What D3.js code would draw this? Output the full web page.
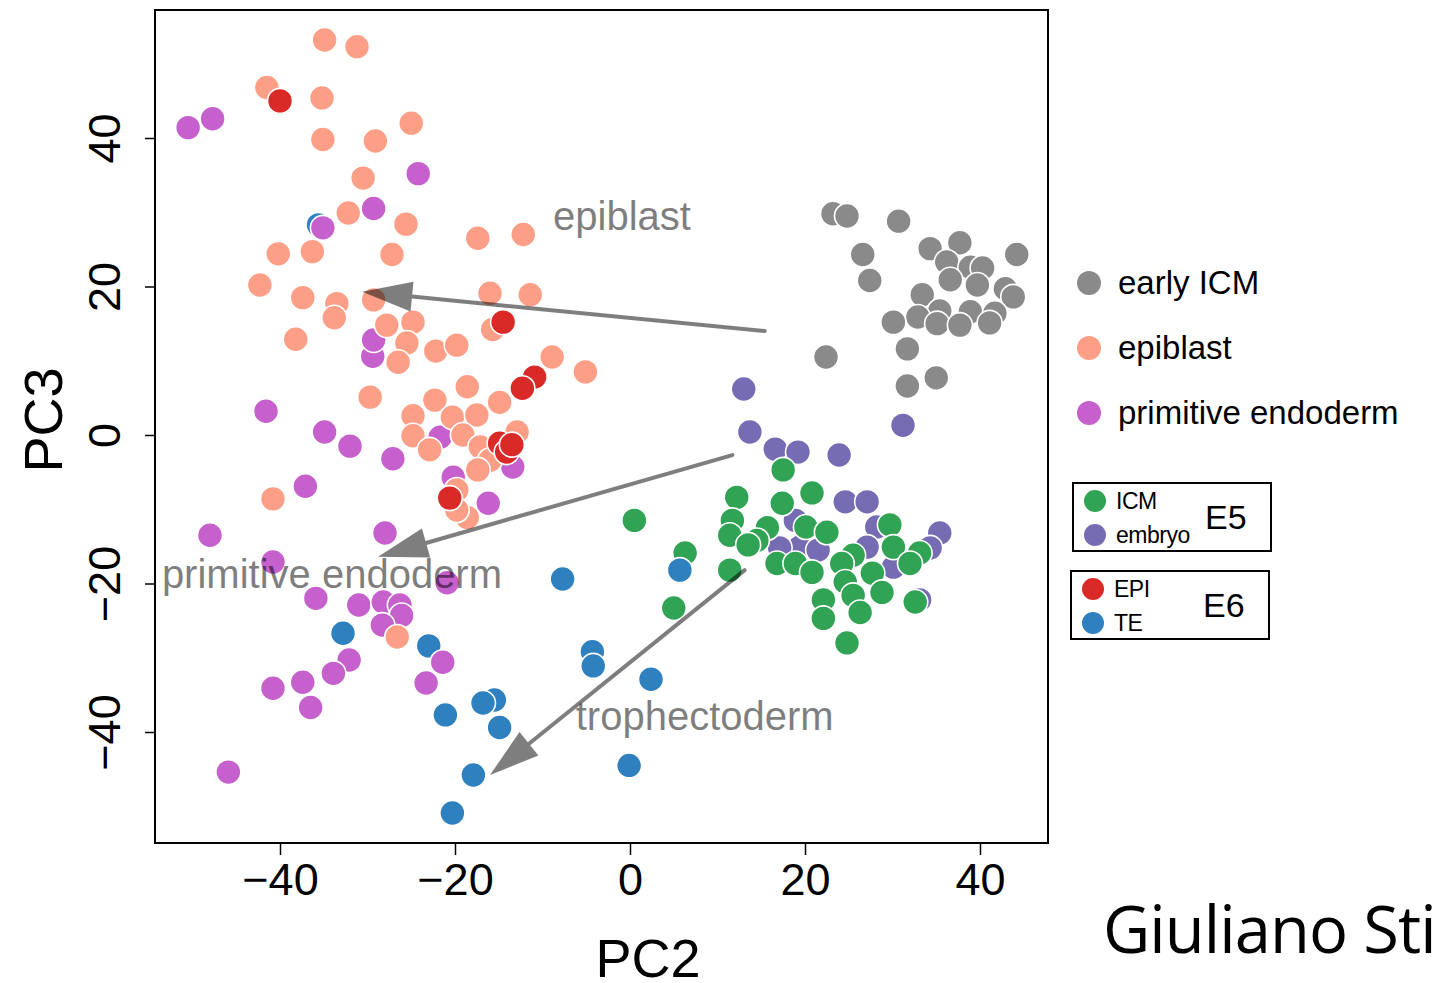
<!DOCTYPE html>
<html>
<head>
<meta charset="utf-8">
<script src="https://cdn.jsdelivr.net/npm/d3@7"></script>
<style>
  body { margin: 0; background: #fff; overflow: hidden; }
</style>
</head>
<body>
<div id="canvas"></div>
<script>
"use strict"

/* data: [PC2, PC3] */
let earlyICM = [[23.2,29.8],[24.8,29.5],[30.7,28.8],[26.6,24.3],[27.4,20.8],[34.3,25.1],[37.7,25.9],
  [44.2,24.3],[36.2,23.3],[38.9,22.6],[40.3,22.5],[36.6,20.9],[39.7,20.2],[42.9,19.7],[43.8,18.6],
  [33.4,18.9],[35.4,16.7],[38.9,16.6],[41.7,16.4],[32.9,15.9],[35.1,15.0],[37.7,14.8],[41.1,15.1],
  [30.1,15.2],[31.7,11.6],[22.4,10.5],[31.7,6.6],[35.0,7.7]];

let embryoE5 = [[13.0,6.2],[13.7,0.4],[16.6,-1.9],[19.2,-2.3],[23.9,-2.7],[31.2,1.3],[24.6,-9.0],
  [27.1,-9.0],[35.4,-13.2],[34.3,-15.2],[33.1,-22.2],[18.9,-11.5],[19.4,-15.1],[21.5,-15.5],
  [17.1,-15.2],[28.2,-12.4],[30.1,-17.8],[27.1,-15.1]];

let icmE5 = [[17.5,-4.7],[12.2,-8.4],[20.8,-7.8],[17.4,-9.2],[11.7,-11.5],[11.4,-13.5],[15.7,-12.5],
  [14.5,-14.2],[13.5,-14.8],[20.1,-12.4],[22.5,-13.1],[16.8,-17.3],[18.9,-17.3],[20.8,-18.5],
  [11.4,-18.2],[25.5,-16.2],[24.2,-17.3],[29.7,-12.1],[30.1,-15.1],[33.1,-15.9],[32.0,-17.3],
  [27.7,-18.6],[24.6,-19.8],[28.8,-21.2],[22.1,-22.2],[25.5,-21.6],[26.3,-23.9],[22.1,-24.7],
  [24.8,-28.0],[32.6,-22.5],[0.5,-11.5],[6.3,-15.9],[5.0,-23.3]];

let teE6 = [[-35.6,28.3],[-32.8,-26.7],[-23.0,-28.4],[-21.1,-37.7],[-15.5,-35.7],[-16.8,-36.1],
  [-14.9,-39.4],[-17.9,-45.8],[-20.3,-50.9],[-7.7,-19.4],[5.7,-18.2],[-4.3,-29.2],[-4.2,-31.1],
  [2.4,-32.9],[-0.1,-44.5]];

let primEndo = [[-50.5,41.4],[-47.7,42.6],[-24.2,35.2],[-29.3,30.5],[-35.1,27.9],[-29.4,10.6],
  [-29.3,12.8],[-41.6,3.2],[-34.9,0.4],[-32.0,-1.5],[-27.1,-3.2],[-37.1,-6.9],[-21.7,-0.3],
  [-20.2,-5.7],[-13.4,-4.3],[-16.2,-9.2],[-28.0,-13.2],[-48.0,-13.5],[-40.8,-17.1],[-20.9,-19.9],
  [-35.9,-22.0],[-31.0,-22.9],[-28.2,-22.5],[-26.3,-22.9],[-26.1,-24.3],[-28.3,-25.6],[-32.1,-30.3],
  [-33.9,-32.1],[-37.4,-33.3],[-40.8,-34.1],[-36.5,-36.7],[-23.3,-33.4],[-21.4,-30.6],[-45.9,-45.4]];

let epiblast = [[-34.9,53.2],[-31.2,52.3],[-41.5,46.8],[-35.2,45.4],[-35.1,39.8],[-29.1,39.6],
  [-25.0,42.0],[-30.5,34.6],[-32.2,29.9],[-25.6,28.4],[-40.2,24.4],[-36.3,24.7],[-27.2,24.3],
  [-42.3,20.2],[-37.4,18.5],[-33.5,17.7],[-33.8,15.8],[-38.2,12.9],[-29.3,18.2],[-24.8,15.2],
  [-25.5,12.4],[-26.5,9.8],[-22.2,11.3],[-19.8,12.1],[-29.7,5.1],[-22.3,4.7],[-18.6,6.5],
  [-14.9,4.4],[-24.8,2.6],[-20.3,2.4],[-17.5,2.7],[-12.9,0.4],[-24.8,-0.1],[-19.1,0.0],
  [-22.9,-2.0],[-17.1,-1.6],[-16.0,-3.4],[-17.4,-4.7],[-19.8,-7.4],[-18.6,-11.1],[-19.8,-10.1],
  [-40.8,-8.6],[-17.4,26.5],[-12.2,27.0],[-16.0,19.1],[-11.4,18.9],[-15.7,14.2],[-8.9,10.5],
  [-5.1,8.5],[-26.6,-27.2],[-27.8,14.8]];

let epiE6 = [[-40.0,45.0],[-14.5,15.2],[-10.9,7.8],[-12.3,6.3],[-14.9,-1.1],[-14.1,-2.3],
  [-13.5,-1.3],[-20.6,-8.5]];

let groupNames = ["early ICM", "embryo", "ICM", "TE", "primitive endoderm", "epiblast", "EPI"];
let groupColors = ["#8a8a8a", "#756cb3", "#30a354", "#2f80be", "#c560cc", "#fc9f86", "#d92a28"];
let groupPoints = [earlyICM, embryoE5, icmE5, teE6, primEndo, epiblast, epiE6];

let xTicks = [-40, -20, 0, 20, 40];
let yTicks = [-40, -20, 0, 20, 40];

/* annotation arrows, [from, to] in PC2/PC3 units */
let arrowFrom = [[15.4, 14.0], [11.7, -2.7], [13.1, -18.2]];
let arrowTo = [[-30.6, 19.3], [-28.8, -16.4], [-16.0, -45.8]];
let noteText = ["epiblast", "primitive endoderm", "trophectoderm"];
let notePos = [[-8.8, 27.6], [-53.5, -20.6], [-6.2, -39.7]];

let drawingWidth = 1438;
let drawingHeight = 983;
let boxLeft = 155, boxRight = 1048, boxTop = 10, boxBottom = 843;

let drawing = d3.select("#canvas")
    .append("svg")
    .attr("width", drawingWidth)
    .attr("height", drawingHeight)
    .style("font-family", "'Liberation Sans', Arial, sans-serif");

let x = d3.scaleLinear().domain([-40, 40]).range([280, 980]);
let y = d3.scaleLinear().domain([-40, 40]).range([732, 138]);

/* axes */
let xAxis = drawing.append("g")
    .attr("transform", "translate(0," + boxBottom + ")")
    .call(d3.axisBottom(x).tickValues(xTicks).tickSize(12).tickPadding(8));
xAxis.select(".domain").remove();
xAxis.selectAll("line").attr("stroke", "#000").attr("stroke-width", 1.5);
xAxis.selectAll("text").attr("font-size", 45).attr("fill", "#000")
    .attr("font-family", "'Liberation Sans', Arial, sans-serif");

let yAxis = drawing.append("g")
    .attr("transform", "translate(" + boxLeft + ",0)")
    .call(d3.axisLeft(y).tickValues(yTicks).tickSize(10));
yAxis.select(".domain").remove();
yAxis.selectAll("line").attr("stroke", "#000").attr("stroke-width", 1.5);
yAxis.selectAll("text")
    .attr("font-size", 45)
    .attr("fill", "#000")
    .attr("font-family", "'Liberation Sans', Arial, sans-serif")
    .attr("x", null).attr("dy", null)
    .attr("text-anchor", "middle")
    .attr("transform", "translate(-35,0) rotate(-90)");

drawing.append("text")
    .attr("x", 648)
    .attr("y", 977)
    .attr("text-anchor", "middle")
    .attr("font-size", 54)
    .text("PC2");

drawing.append("text")
    .attr("transform", "translate(62,420) rotate(-90)")
    .attr("text-anchor", "middle")
    .attr("font-size", 54)
    .text("PC3");

/* points */
groupPoints.forEach(function (pts, i) {
    drawing.append("g")
        .selectAll("circle")
        .data(pts)
        .join("circle")
        .attr("cx", d => x(d[0]))
        .attr("cy", d => y(d[1]))
        .attr("r", 12.5)
        .attr("fill", groupColors[i])
        .attr("stroke", "#fff")
        .attr("stroke-width", 1.6);
});

/* arrows, drawn half transparent like the original */
let arrows = drawing.append("g").attr("opacity", 0.5);
arrowFrom.forEach(function (a, i) {
    let x1 = x(a[0]), y1 = y(a[1]);
    let x2 = x(arrowTo[i][0]), y2 = y(arrowTo[i][1]);
    let len = Math.hypot(x2 - x1, y2 - y1);
    let ux = (x2 - x1) / len, uy = (y2 - y1) / len;
    let headLen = 50, headHalf = 15;
    let bx = x2 - ux * headLen, by = y2 - uy * headLen;
    let path = "M" + x1 + "," + y1 + "L" + bx + "," + by;
    arrows.append("path")
        .attr("d", path)
        .attr("stroke", "#000")
        .attr("stroke-width", 4)
        .attr("stroke-linecap", "round");
    arrows.append("polygon")
        .attr("points", [x2, y2, bx - uy * headHalf, by + ux * headHalf, bx + uy * headHalf, by - ux * headHalf].join(","))
        .attr("fill", "#000");
});

drawing.append("g")
    .selectAll("text")
    .data(noteText)
    .join("text")
    .attr("x", (d, i) => x(notePos[i][0]))
    .attr("y", (d, i) => y(notePos[i][1]))
    .attr("font-size", 40)
    .attr("fill", "#000")
    .attr("opacity", 0.5)
    .text(d => d);

/* plot box */
drawing.append("rect")
    .attr("x", boxLeft)
    .attr("y", boxTop)
    .attr("width", boxRight - boxLeft)
    .attr("height", boxBottom - boxTop)
    .attr("fill", "none")
    .attr("stroke", "#000")
    .attr("stroke-width", 2);

/* legend: lineages */
let legendNames = ["early ICM", "epiblast", "primitive endoderm"];
let legendColors = [groupColors[0], groupColors[5], groupColors[4]];
let legend = drawing.append("g");
legendNames.forEach(function (name, i) {
    legend.append("circle")
        .attr("cx", 1089)
        .attr("cy", 283 + i * 65)
        .attr("r", 12)
        .attr("fill", legendColors[i]);
    legend.append("text")
        .attr("x", 1118)
        .attr("y", 294 + i * 65)
        .attr("font-size", 33)
        .text(name);
});

/* legend: stage boxes */
let stageNames = ["E5", "E6"];
let stageItems = [["ICM", "embryo"], ["EPI", "TE"]];
let stageColors = [[groupColors[2], groupColors[1]], [groupColors[6], groupColors[3]]];
let stageTop = [483, 571];
stageNames.forEach(function (stage, i) {
    let top = stageTop[i];
    legend.append("rect")
        .attr("x", 1073 - i * 2)
        .attr("y", top)
        .attr("width", 198)
        .attr("height", 68)
        .attr("fill", "none")
        .attr("stroke", "#000")
        .attr("stroke-width", 2);
    stageItems[i].forEach(function (item, j) {
        legend.append("circle")
            .attr("cx", 1095 - i * 2)
            .attr("cy", top + 18 + j * 34)
            .attr("r", 11)
            .attr("fill", stageColors[i][j]);
        legend.append("text")
            .attr("x", 1116 - i * 2)
            .attr("y", top + 26 + j * 34)
            .attr("font-size", 23)
            .attr("letter-spacing", -0.5)
            .text(item);
    });
    legend.append("text")
        .attr("x", 1205 - i * 2)
        .attr("y", top + 46)
        .attr("font-size", 34)
        .text(stage);
});

/* credit at the bottom right, cut by the page edge as in the original */
drawing.append("text")
    .attr("x", 1103)
    .attr("y", 953)
    .attr("font-family", "'Open Sans', 'Noto Sans', sans-serif")
    .attr("font-size", 65)
    .attr("letter-spacing", -0.9)
    .text("Giuliano Stirparo");
</script>
</body>
</html>
